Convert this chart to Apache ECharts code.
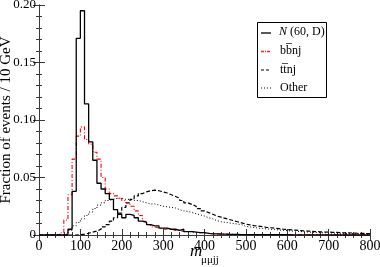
<!DOCTYPE html>
<html><head><meta charset="utf-8">
<script src="https://cdn.jsdelivr.net/npm/echarts@6/dist/echarts.min.js"></script>
<style>html,body{margin:0;padding:0;background:#fff}#c{width:380px;height:267px}</style>
</head><body><div id="c"></div>
<script>
// Histogram bins: 10 GeV wide, from 0 to 800 GeV (80 bins)
const binWidth = 10;
const xTicks = [0, 100, 200, 300, 400, 500, 600, 700, 800];
const yTicks = [0, 0.05, 0.10, 0.15, 0.20];
const seriesNames = ['N (60, D)', 'bb\u0305nj', 'tt\u0305nj', 'Other'];

const nSignal = [
  0, 0, 0, 0, 0, 0, 0, 0.005, 0.038, 0.171,
  0.195, 0.114, 0.081, 0.065, 0.045, 0.040, 0.036, 0.031, 0.022, 0.018,
  0.015, 0.018, 0.017, 0.015, 0.012, 0.011, 0.009, 0.008, 0.008, 0.006,
  0.006, 0.005, 0.005, 0.004, 0.005, 0.003, 0.003, 0.0025, 0.002, 0.002,
  0.0015, 0.001, 0.001, 0.0008, 0.0008, 0.0006, 0.0005, 0.0005, 0.0004, 0.0003,
  0.0003, 0.0003, 0.0003, 0.0002, 0.0002, 0.0002, 0.0002, 0.0002, 0.0002, 0.0002,
  0.0001, 0.0001, 0.0001, 0.0001, 0.0001, 0.0001, 0.0001, 0.0001, 0.0001, 0.0001,
  0, 0, 0, 0, 0, 0, 0, 0, 0, 0
];
const bbnj = [
  0, 0, 0, 0, 0, 0.002, 0.013, 0.035, 0.066, 0.086,
  0.094, 0.083, 0.079, 0.072, 0.066, 0.050, 0.040, 0.036, 0.034, 0.032,
  0.030, 0.028, 0.025, 0.021, 0.017, 0.012, 0.009, 0.007, 0.006, 0.005,
  0.005, 0.005, 0.004, 0.004, 0.003, 0.003, 0.003, 0.002, 0.002, 0.002,
  0.0015, 0.0012, 0.001, 0.001, 0.0008, 0.0008, 0.0006, 0.0005, 0.0005, 0.0004,
  0.0003, 0.0003, 0.0003, 0.0003, 0.0003, 0.0003, 0.0003, 0.0003, 0.0003, 0.0003,
  0.0002, 0.0002, 0.0002, 0.0002, 0.0002, 0.0002, 0.0002, 0.0002, 0.0002, 0.0002,
  0.0001, 0.0001, 0.0001, 0.0001, 0.0001, 0.0001, 0.0001, 0.0001, 0.0001, 0.0001
];
const ttnj = [
  0, 0, 0, 0, 0, 0, 0, 0, 0, 0.0003,
  0.0008, 0.0015, 0.0025, 0.0035, 0.005, 0.007, 0.009, 0.012, 0.015, 0.019,
  0.024, 0.028, 0.031, 0.034, 0.036, 0.0375, 0.0385, 0.039, 0.0385, 0.0375,
  0.0365, 0.035, 0.0335, 0.032, 0.030, 0.028, 0.0265, 0.025, 0.023, 0.021,
  0.0195, 0.018, 0.0165, 0.0155, 0.0145, 0.0135, 0.0125, 0.0115, 0.0105, 0.0095,
  0.0088, 0.0082, 0.0077, 0.0072, 0.0067, 0.0063, 0.0059, 0.0055, 0.0051, 0.0048,
  0.0045, 0.0042, 0.0039, 0.0036, 0.0034, 0.0032, 0.003, 0.0028, 0.0026, 0.0025,
  0.0023, 0.0022, 0.002, 0.0019, 0.0018, 0.0017, 0.0015, 0.0014, 0.0013, 0.0012
];
const other = [
  0, 0, 0, 0, 0, 0, 0.001, 0.004, 0.008, 0.011,
  0.014, 0.017, 0.020, 0.023, 0.026, 0.028, 0.030, 0.031, 0.032, 0.032,
  0.031, 0.031, 0.030, 0.030, 0.029, 0.028, 0.027, 0.027, 0.026, 0.025,
  0.0245, 0.024, 0.0235, 0.022, 0.021, 0.0205, 0.0195, 0.0185, 0.0175, 0.0165,
  0.015, 0.014, 0.0125, 0.0115, 0.011, 0.0105, 0.010, 0.0095, 0.009, 0.0075,
  0.007, 0.0065, 0.006, 0.0057, 0.0053, 0.005, 0.0047, 0.0044, 0.0041, 0.0038,
  0.0035, 0.0033, 0.003, 0.0028, 0.0026, 0.0024, 0.0022, 0.002, 0.0019, 0.0018,
  0.0017, 0.0016, 0.0015, 0.0014, 0.0013, 0.0012, 0.0011, 0.001, 0.001, 0.0009
];

function histPoints(vals) {
  const pts = vals.map((v, i) => [i * binWidth, v]);
  pts.push([vals.length * binWidth, vals[vals.length - 1]]);
  return pts;
}

const FONT = '"Liberation Serif", "DejaVu Serif", serif';
const frameColor = '#3a3a3a';

const chart = echarts.init(document.getElementById('c'), null, {renderer: 'canvas'});

const axisCommon = {
  type: 'value',
  axisLine: {show: true, lineStyle: {color: frameColor, width: 1}},
  axisTick: {show: true, inside: true, length: 6, lineStyle: {color: frameColor}},
  minorTick: {show: true, splitNumber: 5, length: 3, lineStyle: {color: frameColor}},
  splitLine: {show: false},
  minorSplitLine: {show: false}
};

const xMin = xTicks[0], xMax = xTicks[xTicks.length - 1], xInt = xTicks[1] - xTicks[0];
const yMin = yTicks[0], yMax = yTicks[yTicks.length - 1], yInt = yTicks[1] - yTicks[0];

const option = {
  animation: false,
  backgroundColor: '#fff',
  grid: {left: 39, right: 10, top: 5, bottom: 32, containLabel: false, outerBoundsMode: 'none'},
  xAxis: [
    Object.assign({}, axisCommon, {
      position: 'bottom', min: xMin, max: xMax, interval: xInt,
      axisLabel: {show: true, color: '#000', fontFamily: FONT, fontSize: 14, margin: 4}
    }),
    Object.assign({}, axisCommon, {
      position: 'top', min: xMin, max: xMax, interval: xInt,
      axisLabel: {show: false}
    })
  ],
  yAxis: [
    Object.assign({}, axisCommon, {
      position: 'left', min: yMin, max: yMax, interval: yInt,
      axisLabel: {show: true, color: '#000', fontFamily: FONT, fontSize: 13, margin: 3,
        formatter: v => (v === 0 ? '0' : v.toFixed(2))},
      name: 'Fraction of events / 10 GeV',
      nameLocation: 'middle', nameRotate: 90, nameGap: 25, nameMoveOverlap: false,
      nameTextStyle: {color: '#000', fontFamily: FONT, fontSize: 15}
    }),
    Object.assign({}, axisCommon, {
      position: 'right', min: yMin, max: yMax, interval: yInt,
      axisLabel: {show: false}
    })
  ],
  series: [
    {name: seriesNames[3], type: 'line', step: 'end', symbol: 'none', data: histPoints(other),
     lineStyle: {color: '#000', width: 1, type: [1, 2]}, z: 2},
    {name: seriesNames[2], type: 'line', step: 'end', symbol: 'none', data: histPoints(ttnj),
     lineStyle: {color: '#000', width: 1.2, type: [4, 2]}, z: 3},
    {name: seriesNames[1], type: 'line', step: 'end', symbol: 'none', data: histPoints(bbnj),
     lineStyle: {color: '#ff0000', width: 1.1, type: [4, 2, 1, 2]}, z: 4},
    {name: seriesNames[0], type: 'line', step: 'end', symbol: 'none', data: histPoints(nSignal),
     lineStyle: {color: '#000', width: 1.3}, z: 5}
  ],
  graphic: [
    // x-axis title m_{mu mu jj}
    {type: 'text', left: 190, top: 243, style: {text: 'm', font: 'italic 17px ' + FONT, fill: '#000'}},
    {type: 'text', left: 201, top: 255, style: {text: 'μμjj', font: '11px ' + FONT, fill: '#000'}},
    // legend box
    {type: 'rect', shape: {x: 257.5, y: 22.5, width: 69, height: 75},
     style: {fill: '#fff', stroke: '#000', lineWidth: 1}, z: 10},
    {type: 'line', shape: {x1: 261, y1: 33, x2: 271, y2: 33}, style: {stroke: '#000', lineWidth: 1.3}, z: 11},
    {type: 'line', shape: {x1: 261, y1: 51.5, x2: 271, y2: 51.5}, style: {stroke: '#ff2020', lineWidth: 1.4, lineDash: [3, 1, 1, 1]}, z: 11},
    {type: 'line', shape: {x1: 261, y1: 70, x2: 271, y2: 70}, style: {stroke: '#000', lineWidth: 1.2, lineDash: [3, 2]}, z: 11},
    {type: 'line', shape: {x1: 261, y1: 88, x2: 271, y2: 88}, style: {stroke: '#000', lineWidth: 1, lineDash: [1, 2]}, z: 11},
    {type: 'text', left: 279, top: 26, z: 11, style: {
      text: '{i|N} (60, D)', font: '12px ' + FONT, fill: '#000',
      rich: {i: {fontStyle: 'italic', fontFamily: FONT, fontSize: 12}}}},
    {type: 'text', left: 280, top: 45, z: 11, style: {text: seriesNames[1], font: '12px ' + FONT, fill: '#000'}},
    {type: 'text', left: 280, top: 63.5, z: 11, style: {text: seriesNames[2], font: '12px ' + FONT, fill: '#000'}},
    {type: 'text', left: 280, top: 81.5, z: 11, style: {text: seriesNames[3], font: '12px ' + FONT, fill: '#000'}}
  ]
};
chart.setOption(option);
</script>
</body></html>
